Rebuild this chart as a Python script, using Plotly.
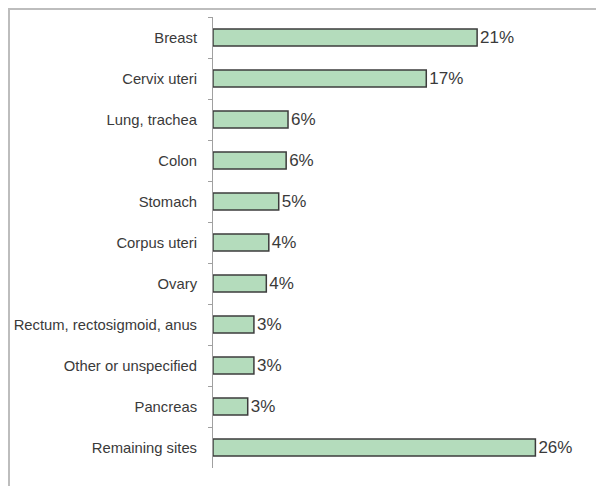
import plotly.graph_objects as go

sites = ["Breast", "Cervix uteri", "Lung, trachea", "Colon", "Stomach", "Corpus uteri",
         "Ovary", "Rectum, rectosigmoid, anus", "Other or unspecified", "Pancreas", "Remaining sites"]
shares = [21.3, 17.2, 6.05, 5.9, 5.3, 4.5, 4.3, 3.3, 3.3, 2.8, 26.0]
share_labels = ["21%", "17%", "6%", "6%", "5%", "4%", "4%", "3%", "3%", "3%", "26%"]

# page body has an 8px margin, so the figure is drawn from (8, 8)
OFF = 8
W, H = 604 - OFF, 486 - OFF
L, T = 213 - OFF, 17 - OFF
B = 18
R = 19

fig = go.Figure(go.Bar(
    x=shares, y=sites, orientation="h",
    text=share_labels, textposition="outside", constraintext="none",
    textfont=dict(size=17, color="#3a3a3a", family="Liberation Sans, Arial, sans-serif"),
    marker=dict(color="#b4dcbc", line=dict(color="#3c3c3c", width=1.5)),
    cliponaxis=False, width=0.415,
))

fig.update_layout(
    width=W, height=H, margin=dict(l=L, r=R, t=T, b=B, pad=0, autoexpand=False),
    paper_bgcolor="white", plot_bgcolor="white", showlegend=False,
    font=dict(family="Liberation Sans, Arial, sans-serif", color="#3a3a3a"),
    xaxis=dict(range=[0, 30], visible=False, fixedrange=True),
    yaxis=dict(autorange="reversed", showline=True, linecolor="#a0a0a0", linewidth=1,
               ticks="outside", tickson="boundaries", ticklen=4, tickcolor="#a0a0a0",
               tickfont=dict(size=14.8, color="#3a3a3a"), ticklabelstandoff=12,
               showgrid=False, zeroline=False, automargin=False),
)

pw = W - L - R
ph = H - T - B
fig.add_shape(type="rect", xref="paper", yref="paper",
              x0=(1 - L) / pw, x1=1.3, y0=-0.2, y1=(H - B - 1) / ph,
              line=dict(color="#bdbdbd", width=2), layer="below")

fig.write_html("out.html")
